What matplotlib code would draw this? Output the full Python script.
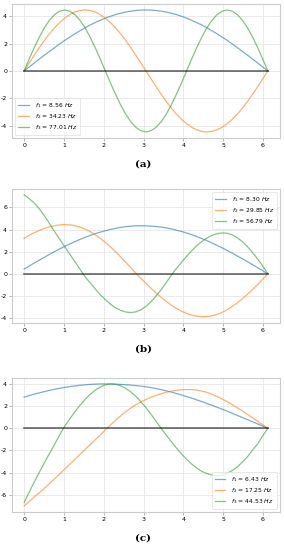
import matplotlib
matplotlib.use("Agg")
import matplotlib.pyplot as plt

x = [0.0, 0.1275, 0.255, 0.3825, 0.51, 0.6375, 0.765, 0.8925, 1.02, 1.1475, 1.275, 1.4025,
     1.53, 1.6575, 1.785, 1.9125, 2.04, 2.1675, 2.295, 2.4225, 2.55, 2.6775, 2.805, 2.9325,
     3.06, 3.1875, 3.315, 3.4425, 3.57, 3.6975, 3.825, 3.9525, 4.08, 4.2075, 4.335, 4.4625,
     4.59, 4.7175, 4.845, 4.9725, 5.1, 5.2275, 5.355, 5.4825, 5.61, 5.7375, 5.865, 5.9925, 6.12]

# panel (a)
a_f1 = [0, 0.29, 0.58, 0.87, 1.15, 1.43, 1.70, 1.97, 2.23, 2.47, 2.71, 2.93, 3.15, 3.35, 3.53,
        3.70, 3.85, 3.99, 4.11, 4.21, 4.30, 4.36, 4.41, 4.44, 4.45, 4.44, 4.41, 4.36, 4.30,
        4.21, 4.11, 3.99, 3.85, 3.70, 3.53, 3.35, 3.15, 2.93, 2.71, 2.47, 2.23, 1.97, 1.70,
        1.43, 1.15, 0.87, 0.58, 0.29, 0]
a_f2 = [0, 0.58, 1.15, 1.70, 2.23, 2.71, 3.15, 3.53, 3.85, 4.11, 4.30, 4.41, 4.45, 4.41, 4.30,
        4.11, 3.85, 3.53, 3.15, 2.71, 2.23, 1.70, 1.15, 0.58, 0, -0.58, -1.15, -1.70, -2.23,
        -2.71, -3.15, -3.53, -3.85, -4.11, -4.30, -4.41, -4.45, -4.41, -4.30, -4.11, -3.85,
        -3.53, -3.15, -2.71, -2.23, -1.70, -1.15, -0.58, 0]
a_f3 = [0, 0.87, 1.70, 2.47, 3.15, 3.70, 4.11, 4.36, 4.45, 4.36, 4.11, 3.70, 3.15, 2.47, 1.70,
        0.87, 0, -0.87, -1.70, -2.47, -3.15, -3.70, -4.11, -4.36, -4.45, -4.36, -4.11, -3.70,
        -3.15, -2.47, -1.70, -0.87, 0, 0.87, 1.70, 2.47, 3.15, 3.70, 4.11, 4.36, 4.45, 4.36,
        4.11, 3.70, 3.15, 2.47, 1.70, 0.87, 0]
a_labels = ["8.56", "34.23", "77.01"]

# panel (b)
b_f1 = [0.43, 0.71, 0.98, 1.24, 1.50, 1.76, 2.01, 2.25, 2.48, 2.70, 2.91, 3.11, 3.30, 3.47,
        3.63, 3.77, 3.90, 4.02, 4.11, 4.20, 4.26, 4.31, 4.34, 4.35, 4.34, 4.32, 4.28, 4.23,
        4.15, 4.06, 3.95, 3.83, 3.69, 3.54, 3.37, 3.19, 3.00, 2.79, 2.57, 2.35, 2.11, 1.87,
        1.61, 1.36, 1.09, 0.82, 0.55, 0.27, 0]
b_f2 = [3.2, 3.48, 3.72, 3.93, 4.11, 4.25, 4.35, 4.42, 4.45, 4.43, 4.36, 4.23, 4.05, 3.82,
        3.54, 3.21, 2.84, 2.44, 2.0, 1.54, 1.05, 0.56, 0.05, -0.41, -0.86, -1.31, -1.73, -2.13,
        -2.50, -2.84, -3.13, -3.38, -3.58, -3.73, -3.83, -3.88, -3.86, -3.79, -3.67, -3.48,
        -3.24, -2.95, -2.62, -2.25, -1.84, -1.41, -0.95, -0.48, 0]
b_f3 = [7.15, 6.8, 6.4, 5.88, 5.25, 4.55, 3.82, 3.13, 2.45, 1.78, 1.1, 0.42, -0.25, -0.81,
        -1.36, -1.88, -2.34, -2.74, -3.07, -3.30, -3.45, -3.5, -3.44, -3.25, -2.94, -2.52,
        -2.0, -1.43, -0.78, -0.12, 0.48, 1.04, 1.58, 2.08, 2.54, 2.92, 3.24, 3.48, 3.63, 3.70,
        3.66, 3.52, 3.26, 2.90, 2.45, 1.92, 1.34, 0.70, 0]
b_labels = ["8.30", "29.85", "56.79"]

# panel (c)
c_f1 = [2.81, 2.95, 3.08, 3.20, 3.31, 3.42, 3.52, 3.61, 3.69, 3.76, 3.82, 3.88, 3.92, 3.96,
        3.98, 4.0, 4.0, 4.0, 3.98, 3.96, 3.93, 3.90, 3.85, 3.80, 3.74, 3.67, 3.58, 3.49, 3.38,
        3.27, 3.14, 3.01, 2.86, 2.72, 2.56, 2.41, 2.24, 2.08, 1.90, 1.73, 1.54, 1.36, 1.16,
        0.97, 0.78, 0.59, 0.39, 0.20, 0]
c_f2 = [-7.0, -6.6, -6.2, -5.8, -5.4, -4.98, -4.55, -4.12, -3.68, -3.24, -2.8, -2.36, -1.92,
        -1.48, -1.04, -0.6, -0.15, 0.29, 0.72, 1.12, 1.5, 1.83, 2.12, 2.37, 2.6, 2.8, 2.97,
        3.12, 3.25, 3.35, 3.43, 3.48, 3.5, 3.49, 3.45, 3.36, 3.24, 3.06, 2.86, 2.64, 2.4, 2.13,
        1.85, 1.56, 1.25, 0.95, 0.63, 0.32, 0]
c_f3 = [-6.7, -5.74, -4.85, -3.96, -3.1, -2.26, -1.45, -0.6, 0.2, 0.86, 1.48, 2.07, 2.6, 3.06,
        3.44, 3.73, 3.92, 4.0, 3.97, 3.84, 3.61, 3.29, 2.88, 2.40, 1.86, 1.25, 0.63, -0.01,
        -0.62, -1.21, -1.78, -2.31, -2.79, -3.22, -3.59, -3.88, -4.09, -4.22, -4.27, -4.22,
        -4.06, -3.81, -3.48, -3.03, -2.56, -1.95, -1.4, -0.67, 0]
c_labels = ["6.43", "17.25", "44.53"]

plt.rcParams['axes.unicode_minus'] = False
plt.rcParams['font.family'] = 'DejaVu Sans'

fig = plt.figure(figsize=(2.84, 5.5), dpi=100)

panels = [
    ([a_f1, a_f2, a_f3], a_labels, [0.042, 0.749, 0.944, 0.244], "lower left", "(a)", 0.693),
    ([b_f1, b_f2, b_f3], b_labels, [0.042, 0.413, 0.944, 0.244], "upper right", "(b)", 0.357),
    ([c_f1, c_f2, c_f3], c_labels, [0.042, 0.069, 0.944, 0.244], "lower right", "(c)", 0.013),
]
colors = ["#1f77b4", "#ff7f0e", "#2ca02c"]

for series, labels, rect, loc, tag, ty in panels:
    ax = fig.add_axes(rect)
    for i, ys in enumerate(series):
        ax.plot(x, ys, color=colors[i], alpha=0.6, lw=0.9,
                label=r"$f_%d$ = %s $Hz$" % (i + 1, labels[i]))
    ax.plot(x, [0] * len(x), color="black", alpha=0.6, lw=1.2)
    ax.grid(True, color="#e6e6e6", lw=0.6)
    ax.set_axisbelow(True)
    for s in ax.spines.values():
        s.set_color("#cccccc")
        s.set_linewidth(0.8)
    ax.tick_params(labelsize=4.5, length=2, width=0.5, color="#999999", pad=1.5)
    leg = ax.legend(loc=loc, fontsize=4.3, frameon=True, handlelength=1.8,
                    borderpad=0.5, labelspacing=0.4, handletextpad=1.0)
    leg.get_frame().set_edgecolor("#dddddd")
    leg.get_frame().set_linewidth(0.6)
    fig.text(0.505, ty, tag, ha="center", va="bottom", fontsize=7.5,
             family="DejaVu Serif", fontweight="bold")

fig.savefig("out.png", dpi=100)
